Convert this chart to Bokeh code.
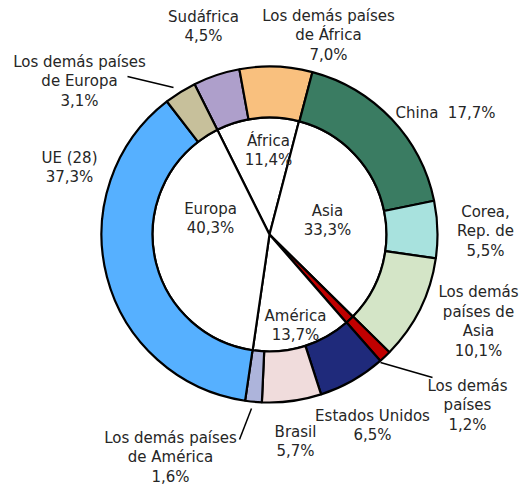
import numpy as np
from bokeh.plotting import figure
from bokeh.models import Range1d, ColumnDataSource
from bokeh.core.properties import value
from bokeh.embed import file_html
from bokeh.resources import INLINE

# Outer ring (clockwise from Sudáfrica)
outer_names = ["Sudáfrica", "Los demás países de África", "China", "Corea, Rep. de",
               "Los demás países de Asia", "Los demás países", "Estados Unidos", "Brasil",
               "Los demás países de América", "UE (28)", "Los demás países de Europa"]
outer_values = [4.5, 7.0, 17.7, 5.5, 10.1, 1.2, 6.5, 5.7, 1.6, 37.3, 3.1]
outer_colors = ["#AE9FCB", "#F9C07E", "#3A7C62", "#A8E2DE", "#D4E5C7", "#C00000",
                "#1F2A7B", "#F0DCDC", "#ADB4DB", "#56B0FF", "#C7C09B"]

# Inner pie (clockwise from África)
inner_names = ["África", "Asia", "Los demás países", "América", "Europa"]
inner_values = [11.4, 33.3, 1.2, 13.7, 40.3]
inner_colors = ["#FFFFFF", "#FFFFFF", "#C00000", "#FFFFFF", "#FFFFFF"]

W, H = 523, 487
p = figure(width=W, height=H, output_backend="svg", toolbar_location=None,
           x_range=Range1d(0, W), y_range=Range1d(0, H), min_border=0)
p.axis.visible = False
p.grid.visible = False
p.outline_line_color = None
p.background_fill_color = "white"

def Y(sy):
    return H - sy

CX, CY = 269, Y(234)
R_OUT, R_IN = 168, 117
START = 333.5  # degrees clockwise from top


def angles(vals):
    v = np.array(vals, dtype=float)
    cum = np.concatenate([[0], np.cumsum(v)]) / v.sum() * 360.0
    th0 = START + cum[:-1]
    th1 = START + cum[1:]
    return np.radians(90 - th0), np.radians(90 - th1)

s0, e0 = angles(inner_values)
src_in = ColumnDataSource(dict(s=s0, e=e0, c=inner_colors))
p.wedge(x=CX, y=CY, radius=R_IN, start_angle="s", end_angle="e", direction="clock",
        fill_color="c", line_color="black", line_width=2.2, source=src_in)

s1, e1 = angles(outer_values)
src_out = ColumnDataSource(dict(s=s1, e=e1, c=outer_colors))
p.annular_wedge(x=CX, y=CY, inner_radius=R_IN, outer_radius=R_OUT, start_angle="s",
                end_angle="e", direction="clock", fill_color="c", line_color="black",
                line_width=2.2, source=src_out)

def pct(v):
    return f"{v:.1f}".replace(".", ",") + "%"

labels = [
    ("Sudáfrica\n" + pct(outer_values[0]), 203, 26),
    ("Los demás países\nde África\n" + pct(outer_values[1]), 328, 35),
    ("China\u00a0\u00a0" + pct(outer_values[2]), 445, 112),
    ("Corea,\nRep. de\n" + pct(outer_values[3]), 485, 231),
    ("Los demás\npaíses de\nAsia\n" + pct(outer_values[4]), 478, 321),
    ("Los demás\npaíses\n" + pct(outer_values[5]), 467, 405),
    ("Estados Unidos\n" + pct(outer_values[6]), 372, 425),
    ("Brasil\n" + pct(outer_values[7]), 295, 441),
    ("Los demás países\nde América\n" + pct(outer_values[8]), 170, 457),
    ("UE (28)\n" + pct(outer_values[9]), 69, 167),
    ("Los demás países\nde Europa\n" + pct(outer_values[10]), 79, 81),
    ("África\n" + pct(inner_values[0]), 268, 150),
    ("Asia\n" + pct(inner_values[1]), 327, 220),
    ("América\n" + pct(inner_values[3]), 295, 325),
    ("Europa\n" + pct(inner_values[4]), 210, 218),
]
src_t = ColumnDataSource(dict(t=[l[0] for l in labels], x=[l[1] for l in labels],
                              y=[Y(l[2]) for l in labels]))
p.text(x="x", y="y", text="t", source=src_t, text_align="center", text_baseline="middle",
       text_font=value("DejaVu Sans"), text_font_size="15px", text_color="#262626",
       text_line_height=1.08)

# leader lines
p.segment(x0=[127, 380, 251], y0=[Y(76), Y(362), Y(408)],
          x1=[173, 432, 239], y1=[Y(87), Y(377), Y(439)],
          line_color="black", line_width=1.5)

open("out.html", "w").write(file_html(p, INLINE))
